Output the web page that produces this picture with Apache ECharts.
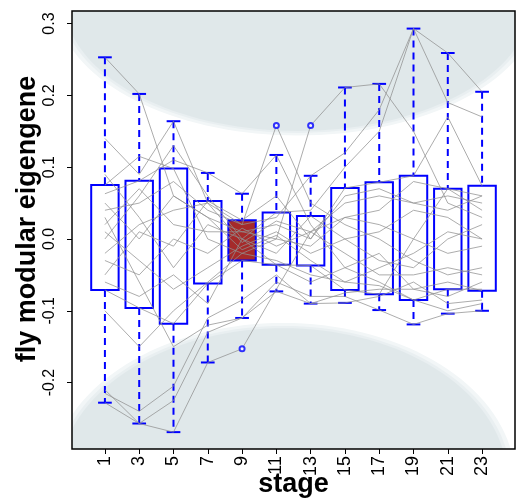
<!DOCTYPE html>
<html>
<head>
<meta charset="utf-8">
<script src="https://cdn.jsdelivr.net/npm/echarts@6/dist/echarts.min.js"></script>
<style>
html,body{margin:0;padding:0;background:#fff;}
#chart{width:517px;height:500px;}
</style>
</head>
<body>
<div id="chart"></div>
<script>
// ---- data ----
const stages = ['1','3','5','7','9','11','13','15','17','19','21','23'];
const whiskerLow  = [-0.228,-0.257,-0.269,-0.172,-0.110,-0.073,-0.090,-0.089,-0.099,-0.119,-0.104,-0.100];
const hingeLow    = [-0.071,-0.096,-0.118,-0.062,-0.030,-0.036,-0.037,-0.071,-0.077,-0.085,-0.070,-0.072];
const hingeHigh   = [ 0.075, 0.081, 0.098, 0.053, 0.026, 0.037, 0.032, 0.071, 0.079, 0.088, 0.070, 0.074];
const whiskerHigh = [ 0.253, 0.202, 0.164, 0.092, 0.063, 0.117, 0.088, 0.211, 0.216, 0.293, 0.259, 0.205];
const outlierStage = ['9','11','13'];
const outlierValue = [-0.153, 0.158, 0.158];
const highlightStage = '9';
const yTickValues = [-0.2,-0.1,0,0.1,0.2,0.3];
const yTickLabels = ['-0.2','-0.1','0.0','0.1','0.2','0.3'];

// gene trajectories (one value per stage)
const g01 = [ 0.253, 0.202, 0.060, 0.030, 0.010, 0.020, 0.000, 0.060, 0.070, 0.050, 0.060, 0.050];
const g02 = [-0.228,-0.257,-0.269,-0.172,-0.153,-0.070, 0.010, 0.030, 0.040, 0.080, 0.070, 0.060];
const g03 = [-0.215,-0.240,-0.205,-0.110,-0.085,-0.050,-0.090,-0.089,-0.080,-0.060,-0.090,-0.085];
const g04 = [-0.210,-0.257,-0.225,-0.130,-0.110,-0.060,-0.080,-0.080,-0.099,-0.119,-0.104,-0.100];
const g05 = [ 0.140, 0.090, 0.164, 0.050, 0.020, 0.158, 0.050, 0.020, 0.000,-0.030,-0.050,-0.040];
const g06 = [ 0.063, 0.081, 0.110, 0.092, 0.063, 0.117, 0.020,-0.040,-0.060,-0.085,-0.070,-0.070];
const g07 = [ 0.075, 0.115, 0.098, 0.000,-0.020, 0.000, 0.158, 0.211, 0.216, 0.150, 0.050, 0.030];
const g08 = [ 0.000, 0.060, 0.130, 0.060, 0.000, 0.037, 0.040, 0.100, 0.150, 0.293, 0.259, 0.205];
const g09 = [ 0.040, 0.050, 0.080, 0.040, 0.020, 0.030, 0.088, 0.120, 0.180, 0.293, 0.190, 0.170];
const g10 = [-0.050, 0.010,-0.010, 0.053, 0.026, 0.060, 0.000, 0.071, 0.079, 0.088, 0.170, 0.074];
const g11 = [-0.071,-0.096,-0.118,-0.062,-0.030,-0.036,-0.037,-0.071,-0.077, 0.000, 0.070, 0.040];
const g12 = [ 0.010,-0.030,-0.070,-0.040,-0.010, 0.010,-0.020, 0.000,-0.030,-0.040, 0.000, 0.020];
const g13 = [ 0.090, 0.030,-0.040, 0.020, 0.000,-0.020, 0.032, 0.000, 0.010, 0.040, 0.030, 0.000];
const g14 = [-0.020, 0.020, 0.040, 0.050,-0.005, 0.025, 0.010, 0.050, 0.060, 0.050, 0.040, 0.060];
const g15 = [ 0.030,-0.060,-0.150,-0.120,-0.110,-0.073,-0.090,-0.075,-0.070,-0.070,-0.060,-0.072];
const g16 = [-0.100,-0.150,-0.100,-0.060,-0.020,-0.030,-0.050,-0.060,-0.065,-0.085,-0.100,-0.090];
const g17 = [ 0.020, 0.070, 0.020, 0.010, 0.010, 0.000,-0.010, 0.030, 0.020, 0.000,-0.020,-0.010];
const g18 = [-0.030,-0.050, 0.000,-0.020, 0.015,-0.010, 0.010,-0.020,-0.050,-0.050,-0.040,-0.050];
const g19 = [ 0.050, 0.000, 0.060, 0.030,-0.015, 0.005,-0.030,-0.060,-0.040,-0.020, 0.010, 0.000];
const g20 = [-0.060,-0.080,-0.050,-0.090, 0.000,-0.036,-0.060,-0.040,-0.020,-0.070,-0.080,-0.060];
const genes = [g01,g02,g03,g04,g05,g06,g07,g08,g09,g10,g11,g12,g13,g14,g15,g16,g17,g18,g19,g20];

// background shading ellipses: [centre position, centre value, x radius, y radius]
const shadeTop = [6.63, 0.333, 6.83, 0.1825];
const shadeBottom = [6.20, -0.336, 6.54, 0.2117];

// ---- build ----
const pos = stages.map((s, i) => i + 1);
const boxData = stages.map((s, i) => [pos[i], whiskerLow[i], hingeLow[i], hingeHigh[i], whiskerHigh[i], s === highlightStage ? 1 : 0]);
const outData = outlierStage.map((s, i) => [stages.indexOf(s) + 1, outlierValue[i]]);

const BLUE = '#0000ff';
function renderBox(params, api) {
  const x = api.value(0);
  const lo = api.value(1), q1 = api.value(2), q3 = api.value(3), hi = api.value(4);
  const hl = api.value(5) === 1;
  const w = api.size([0.8, 0])[0];
  const cw = w / 2;
  const pHi = api.coord([x, hi]), pQ3 = api.coord([x, q3]), pQ1 = api.coord([x, q1]), pLo = api.coord([x, lo]);
  const dash = {stroke: BLUE, lineWidth: 2, lineDash: [7, 5]};
  const solid = {stroke: BLUE, lineWidth: 2};
  return {
    type: 'group',
    children: [
      {type: 'line', shape: {x1: pHi[0], y1: pHi[1], x2: pQ3[0], y2: pQ3[1]}, style: dash},
      {type: 'line', shape: {x1: pQ1[0], y1: pQ1[1], x2: pLo[0], y2: pLo[1]}, style: dash},
      {type: 'line', shape: {x1: pHi[0] - cw / 2, y1: pHi[1], x2: pHi[0] + cw / 2, y2: pHi[1]}, style: solid},
      {type: 'line', shape: {x1: pLo[0] - cw / 2, y1: pLo[1], x2: pLo[0] + cw / 2, y2: pLo[1]}, style: solid},
      {type: 'rect', shape: {x: pQ3[0] - w / 2, y: pQ3[1], width: w, height: pQ1[1] - pQ3[1]},
       style: {fill: hl ? '#a52a2a' : 'rgba(0,0,0,0)', stroke: BLUE, lineWidth: 2}}
    ]
  };
}
function ellipsePoints(api, cx, cy, rx, ry, k) {
  const pts = [];
  for (let j = 0; j < 144; j++) {
    const t = j / 144 * Math.PI * 2;
    pts.push(api.coord([cx + k * rx * Math.cos(t), cy + k * ry * Math.sin(t)]));
  }
  return pts;
}
function renderShade(params, api) {
  const cx = api.value(0), cy = api.value(1), rx = api.value(2), ry = api.value(3);
  return {
    type: 'group',
    children: [
      {type: 'polygon', shape: {points: ellipsePoints(api, cx, cy, rx, ry, 1.035)}, style: {fill: '#f2f6f7'}},
      {type: 'polygon', shape: {points: ellipsePoints(api, cx, cy, rx, ry, 1.015)}, style: {fill: '#e9eff1'}},
      {type: 'polygon', shape: {points: ellipsePoints(api, cx, cy, rx, ry, 1.0)}, style: {fill: '#e0e8ea'}}
    ]
  };
}

const series = [
  {type: 'custom', renderItem: renderShade, data: [shadeTop, shadeBottom], clip: true, silent: true, z: 1}
];
genes.forEach(g => {
  series.push({
    type: 'line', data: g.map((v, i) => [pos[i], v]), symbol: 'none', silent: true, z: 3,
    lineStyle: {color: '#909090', width: 0.75}
  });
});
series.push({type: 'custom', renderItem: renderBox, data: boxData, z: 2, silent: true});
series.push({type: 'scatter', data: outData, symbol: 'emptyCircle', symbolSize: 5, z: 4, silent: true,
  itemStyle: {color: BLUE, borderColor: BLUE, borderWidth: 1.3}});

const chart = echarts.init(document.getElementById('chart'), null, {renderer: 'canvas'});
chart.setOption({
  animation: false,
  backgroundColor: '#fff',
  grid: {left: 72, top: 11, right: 2, bottom: 51, outerBoundsMode: 'none', containLabel: false,
    show: true, borderColor: '#000', borderWidth: 1.5, backgroundColor: 'transparent', z: 10},
  xAxis: {
    type: 'value', min: 0.04, max: 12.96,
    name: 'stage', nameLocation: 'middle', nameGap: 22, nameMoveOverlap: false,
    nameTextStyle: {fontFamily: 'Liberation Sans', fontWeight: 'bold', fontSize: 27, color: '#000'},
    axisLine: {show: false, onZero: false},
    splitLine: {show: false},
    axisTick: {show: true, length: 5, customValues: pos, lineStyle: {color: '#000', width: 1}},
    axisLabel: {customValues: pos, rotate: 90, margin: 7, fontFamily: 'Liberation Sans', fontSize: 18, color: '#000',
      formatter: v => stages[Math.round(v) - 1]}
  },
  yAxis: {
    type: 'value', min: -0.2925, max: 0.3175,
    name: 'fly modular eigengene', nameLocation: 'middle', nameGap: 31, nameRotate: 90, nameMoveOverlap: false,
    nameTextStyle: {fontFamily: 'Liberation Sans', fontWeight: 'bold', fontSize: 27, color: '#000', padding: [0, 0, 0, 22]},
    axisLine: {show: false, onZero: false},
    splitLine: {show: false},
    axisTick: {show: true, length: 5, customValues: yTickValues, lineStyle: {color: '#000', width: 1}},
    axisLabel: {customValues: yTickValues, rotate: 90, margin: 14, fontFamily: 'Liberation Sans', fontSize: 16, color: '#000',
      formatter: v => { const i = yTickValues.findIndex(t => Math.abs(t - v) < 1e-9); return i >= 0 ? yTickLabels[i] : ''; }}
  },
  series: series
});
</script>
</body>
</html>
